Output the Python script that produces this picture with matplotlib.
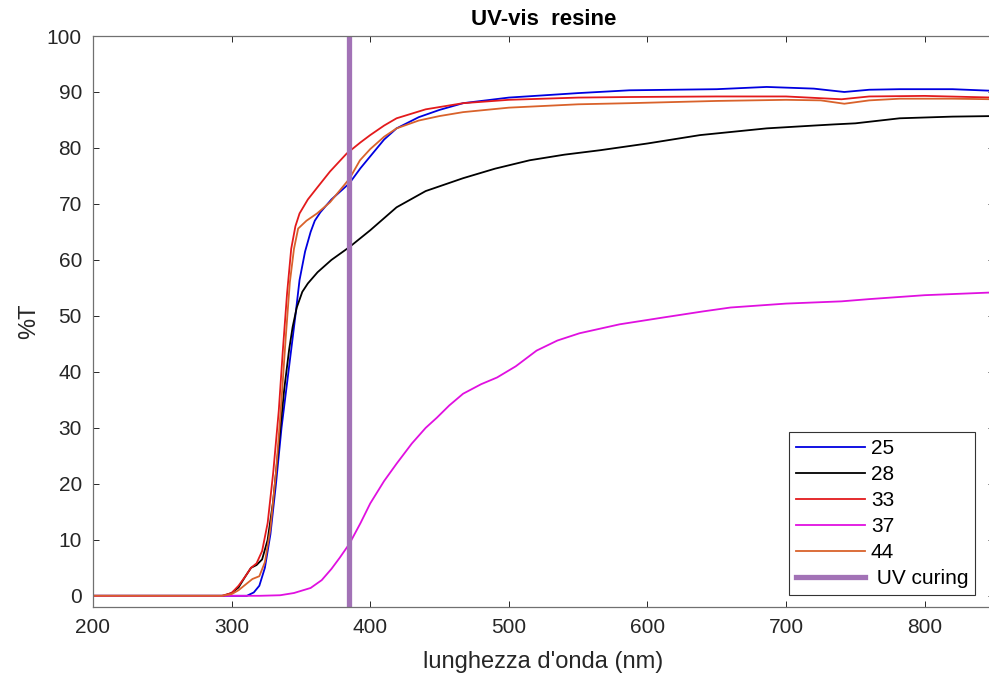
import matplotlib
matplotlib.use('Agg')
import matplotlib.pyplot as plt

plt.rcParams['font.family'] = ['Liberation Sans', 'DejaVu Sans']

# values (nm, %T)
wl_25 = [200, 300, 311, 316, 320, 324, 328, 332, 336, 340, 343, 346, 349, 353, 357, 360, 364, 372,
         385, 393, 400, 410, 419, 435, 450, 467, 500, 550, 587, 650, 686, 720, 742, 760, 782, 820, 850]
t_25 = [0, 0, 0, 0.6, 1.8, 5, 11, 20, 30, 38, 44, 50, 56.4, 61.5, 65, 67, 68.5, 70.8,
        73.7, 76.4, 78.5, 81.5, 83.5, 85.5, 86.8, 88, 89, 89.8, 90.3, 90.5, 90.9, 90.6, 90, 90.4, 90.5, 90.5, 90.2]

wl_28 = [200, 294, 300, 305, 310, 314, 318, 322, 326, 330, 334, 338, 341.5, 344, 347, 351, 355, 362, 372,
         385, 393, 400, 419, 440, 467, 490, 515, 540, 566, 600, 638, 686, 720, 734, 750, 782, 820, 850]
t_28 = [0, 0, 0.5, 1.5, 3.5, 5, 5.5, 6.5, 10, 17, 27, 37, 44, 48, 51.5, 54.3, 55.8, 57.8, 60,
        62.3, 63.9, 65.3, 69.4, 72.3, 74.6, 76.3, 77.8, 78.8, 79.6, 80.8, 82.3, 83.5, 84, 84.2, 84.4, 85.3, 85.6, 85.7]

wl_33 = [200, 293, 300, 305, 310, 314, 318, 322, 326, 330, 334, 337, 340, 343, 346, 349, 355, 362, 371,
         383, 393, 400, 410, 419, 440, 467, 500, 550, 587, 650, 700, 740, 760, 800, 850]
t_33 = [0, 0, 0.5, 1.8, 3.5, 5, 5.8, 8, 13, 22, 33, 44, 54, 62, 66, 68.3, 70.8, 73, 75.8,
        79, 81, 82.3, 84, 85.3, 86.9, 88, 88.6, 89, 89.1, 89.2, 89.2, 88.7, 89.2, 89.3, 89]

wl_37 = [200, 320, 335, 345, 357, 365, 372, 378, 385, 393, 400, 410, 419, 430, 440, 448, 457, 467,
         480, 491.5, 505, 520, 535, 551, 580, 611, 640, 660, 700, 740, 760, 800, 850]
t_37 = [0, 0, 0.1, 0.5, 1.4, 2.8, 4.8, 6.8, 9.3, 13, 16.5, 20.5, 23.6, 27.2, 30, 31.8, 34, 36.1,
        37.8, 39, 41, 43.8, 45.6, 46.9, 48.5, 49.7, 50.8, 51.5, 52.2, 52.6, 53, 53.7, 54.2]

wl_44 = [200, 293, 300, 305, 310, 315, 320, 324, 328, 332, 336, 339, 342, 345, 348, 354, 361.6, 371,
         385, 392.6, 400, 410, 419, 435, 450, 467, 500, 550, 587, 650, 700, 725, 742, 760, 782, 820, 850]
t_44 = [0, 0, 0.3, 1, 2, 3, 3.5, 6, 12, 22, 35, 46, 56, 62, 65.6, 67, 68.3, 70.3,
        74.5, 77.8, 79.8, 82, 83.5, 84.9, 85.7, 86.4, 87.2, 87.8, 88, 88.4, 88.6, 88.5, 87.9, 88.5, 88.8, 88.8, 88.7]

uv_curing = 385

fig = plt.figure(figsize=(9.89, 6.81), dpi=100)
ax = fig.add_axes([93 / 989, 1 - 607 / 681, (994 - 93) / 989, (607 - 36) / 681])

lw = 1.3
ax.plot(wl_25, t_25, color='#0000e0', lw=lw, label='25')
ax.plot(wl_28, t_28, color='black', lw=lw, label='28')
ax.plot(wl_33, t_33, color='#e31a1c', lw=lw, label='33')
ax.plot(wl_37, t_37, color='#e010e0', lw=lw, label='37')
ax.plot(wl_44, t_44, color='#d9622b', lw=lw, label='44')
ax.axvline(uv_curing, color='#a272b6', lw=3.8, label=' UV curing')

ax.set_xlim(200, 850)
ax.set_ylim(-2, 100)
ax.set_xticks(range(200, 900, 100))
ax.set_yticks(range(0, 101, 10))
ax.tick_params(direction='in', top=True, right=True, length=4.5, width=0.7,
               labelsize=15, colors='#262626', pad=8)
for s in ax.spines.values():
    s.set_color('#707070')
    s.set_linewidth(0.9)

ax.set_title('UV-vis  resine', fontsize=16, fontweight='bold', pad=8)
ax.set_xlabel("lunghezza d'onda (nm)", fontsize=17, color='#262626', labelpad=10)
ax.set_ylabel('%T', fontsize=17, color='#262626', labelpad=5)

leg = ax.legend(loc='lower right', bbox_to_anchor=(975 / 989, 1 - 595 / 681),
                bbox_transform=fig.transFigure, borderaxespad=0, fancybox=False,
                framealpha=1, edgecolor='#333333', fontsize=15, handlelength=3.3,
                handletextpad=0.3, labelspacing=0.34, borderpad=0.32)
leg.get_frame().set_linewidth(0.8)

fig.savefig('out.png', dpi=100)
